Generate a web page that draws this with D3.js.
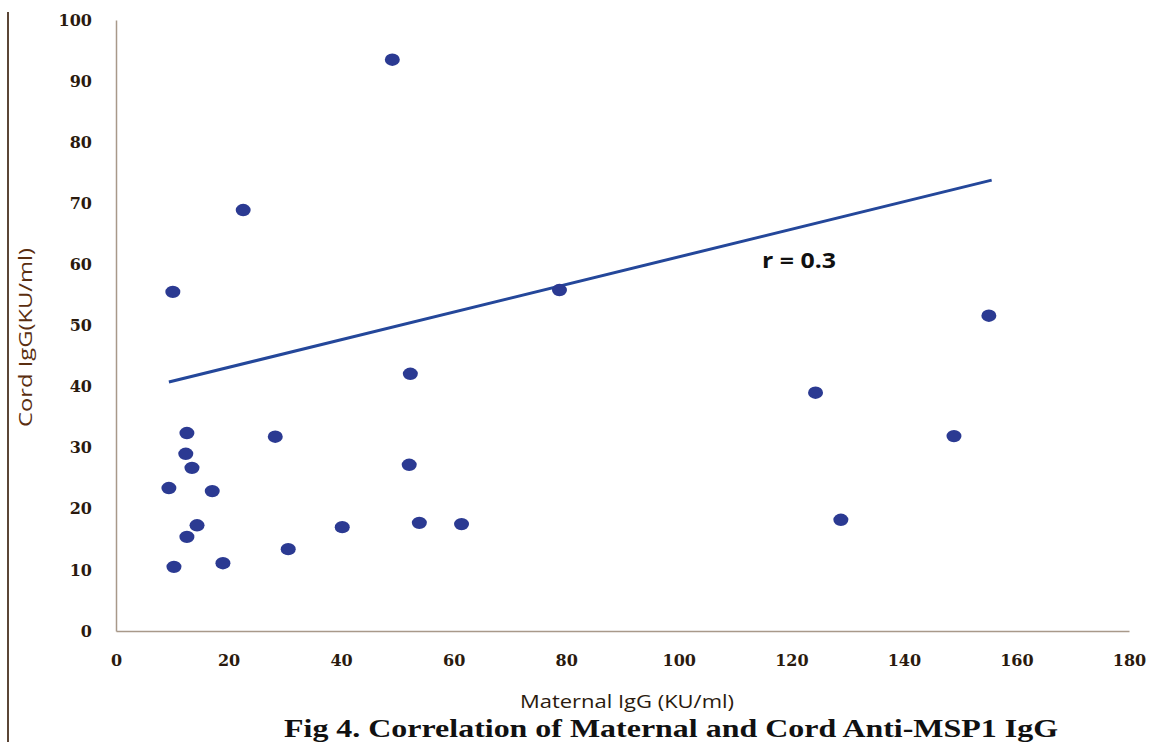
<!DOCTYPE html>
<html>
<head>
<meta charset="utf-8">
<script src="https://cdn.jsdelivr.net/npm/d3@7"></script>
<style>
  html, body { margin: 0; padding: 0; background: #fff; }
  svg { display: block; }
</style>
</head>
<body>
<svg id="chart" width="1149" height="742"></svg>
<script>
// Maternal vs cord anti-MSP1 IgG (KU/ml), one pair per mother/newborn
const maternalIgG = [49.1, 22.6, 10.1, 78.8, 155.1, 52.3, 124.3, 12.6, 28.3, 148.9, 12.4, 13.5,
                     52.1, 9.4, 17.1, 14.4, 12.6, 40.2, 53.9, 61.4, 128.8, 30.6, 10.3, 19.0];
const cordIgG     = [93.5, 68.9, 55.5, 55.8, 51.6, 42.1, 39.0, 32.4, 31.8, 31.9, 29.0, 26.7,
                     27.2, 23.4, 22.9, 17.3, 15.4, 17.0, 17.7, 17.5, 18.2, 13.4, 10.5, 11.1];

// Linear trend line: start and end (maternal, cord)
const trendX = [9.4, 155.6];
const trendY = [40.75, 73.8];
const trendLabel = "r = 0.3";

const xTicks = [0, 20, 40, 60, 80, 100, 120, 140, 160, 180];
const yTicks = [0, 10, 20, 30, 40, 50, 60, 70, 80, 90, 100];

const xTitle = "Maternal IgG (KU/ml)";
const yTitle = "Cord IgG(KU/ml)";
const figTitle = "Fig 4. Correlation of Maternal and Cord Anti-MSP1 IgG";

const svg = d3.select("#chart");
const plot = { left: 116, right: 1129, top: 20, bottom: 631 };

const x = d3.scaleLinear().domain([0, 180]).range([plot.left, plot.right]);
const y = d3.scaleLinear().domain([0, 100]).range([plot.bottom, plot.top]);

// frame edge on the left of the figure
svg.append("line")
  .attr("x1", 8).attr("x2", 8).attr("y1", 12).attr("y2", 742)
  .attr("stroke", "#5b4636").attr("stroke-width", 2);

const tickFont = "'DejaVu Serif', serif";
const tickColor = "#2a1a0e";

// X axis
const xAxis = svg.append("g")
  .attr("transform", `translate(0,${plot.bottom})`)
  .call(d3.axisBottom(x).tickValues(xTicks).tickSize(0).tickPadding(24));
xAxis.select(".domain").attr("stroke", "#a8998a").attr("stroke-width", 1.5);
xAxis.selectAll("text")
  .attr("font-family", tickFont).attr("font-weight", "bold")
  .attr("font-size", 16).attr("fill", tickColor);

// Y axis
const yAxis = svg.append("g")
  .attr("transform", `translate(${plot.left},0)`)
  .call(d3.axisLeft(y).tickValues(yTicks).tickSize(0).tickPadding(24));
yAxis.select(".domain").attr("stroke", "#a8998a").attr("stroke-width", 1.5);
yAxis.selectAll("text")
  .attr("font-family", tickFont).attr("font-weight", "bold")
  .attr("font-size", 16).attr("fill", tickColor);

// trend line
svg.append("line")
  .attr("x1", x(trendX[0])).attr("y1", y(trendY[0]))
  .attr("x2", x(trendX[1])).attr("y2", y(trendY[1]))
  .attr("stroke", "#24479a").attr("stroke-width", 3);

// data points
svg.append("g").selectAll("ellipse")
  .data(d3.zip(maternalIgG, cordIgG))
  .join("ellipse")
  .attr("cx", d => x(d[0]))
  .attr("cy", d => y(d[1]))
  .attr("rx", 7.5).attr("ry", 6.2)
  .attr("fill", "#2b3a92");

// correlation label
svg.append("text")
  .attr("x", 762).attr("y", 268)
  .attr("font-family", "'Open Sans', Arial, sans-serif")
  .attr("font-weight", "bold").attr("font-size", 21)
  .attr("textLength", 74).attr("lengthAdjust", "spacingAndGlyphs")
  .attr("fill", "#111")
  .text(trendLabel);

// axis titles
svg.append("text")
  .attr("x", 520).attr("y", 708)
  .attr("font-family", "'Open Sans', sans-serif")
  .attr("font-size", 18)
  .attr("textLength", 214).attr("lengthAdjust", "spacingAndGlyphs")
  .attr("fill", "#2a1a0e")
  .text(xTitle);

svg.append("text")
  .attr("transform", "translate(32,427) rotate(-90)")
  .attr("font-family", "'Open Sans', sans-serif")
  .attr("font-size", 19)
  .attr("textLength", 179).attr("lengthAdjust", "spacingAndGlyphs")
  .attr("fill", "#5a2e10")
  .text(yTitle);

// figure caption
svg.append("text")
  .attr("x", 284).attr("y", 737)
  .attr("font-family", "'Liberation Serif', 'Times New Roman', serif")
  .attr("font-weight", "bold").attr("font-size", 25)
  .attr("textLength", 774).attr("lengthAdjust", "spacingAndGlyphs")
  .attr("fill", "#111")
  .text(figTitle);
</script>
</body>
</html>
